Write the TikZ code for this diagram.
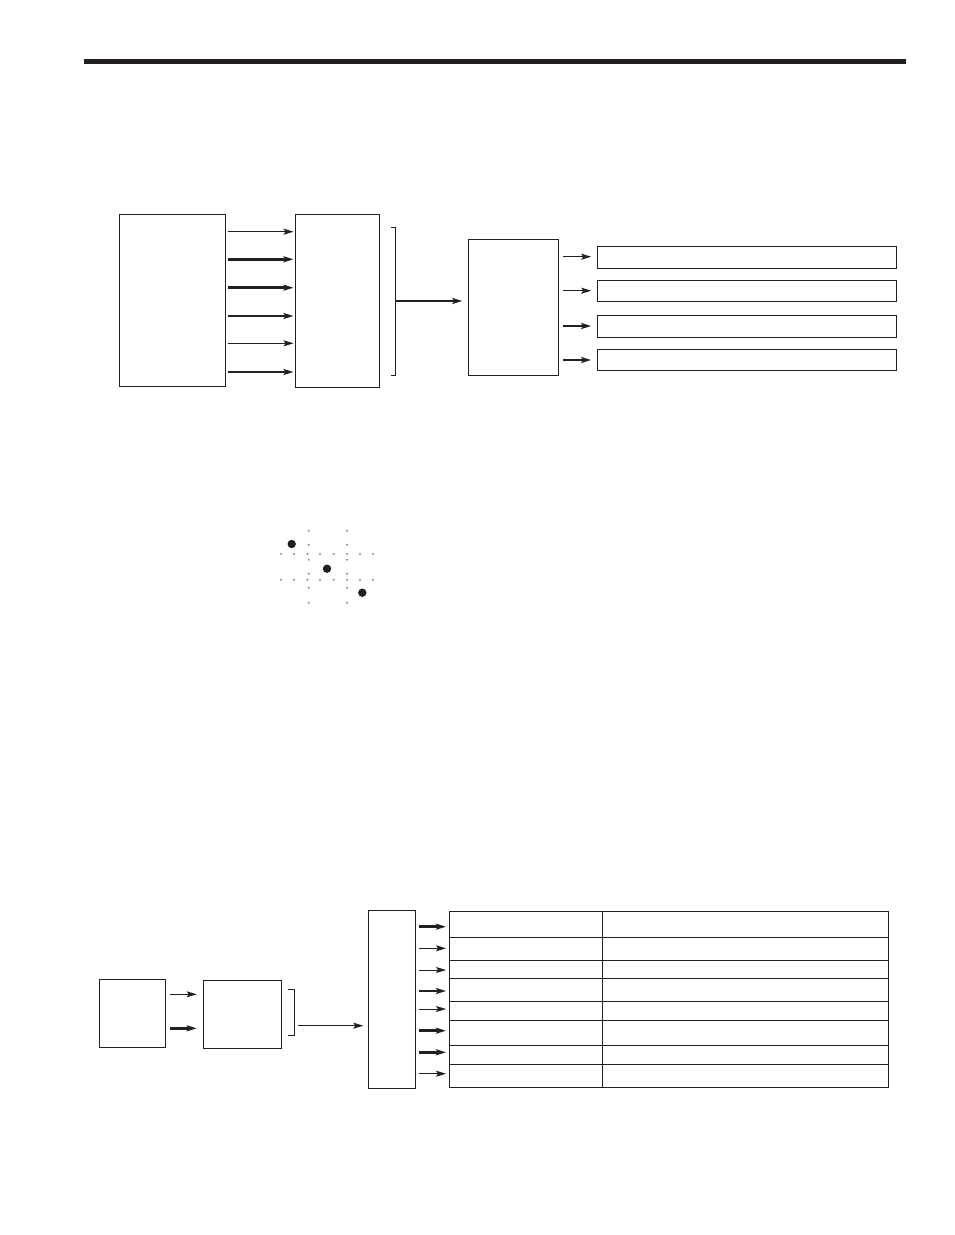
\documentclass[tikz,border=0pt]{standalone}
\usetikzlibrary{arrows.meta}
\definecolor{ink}{RGB}{35,31,32}
\definecolor{dotgrey}{RGB}{140,140,140}
\tikzset{
  box/.style={draw=ink, line width=0.9pt, inner sep=0pt, outer sep=0pt, anchor=north west},
  thinarr/.style={draw=ink, line width=1pt, -{Stealth[length=10pt,width=6pt,inset=2pt]}},
  thickarr/.style={draw=ink, line width=2.6pt, -{Stealth[length=10pt,width=6pt,inset=2pt]}},
  brk/.style={draw=ink, line width=1pt},
  bigdot/.style={fill=ink, draw=none},
  smalldot/.style={fill=dotgrey, draw=none}
}
\begin{document}
\begin{tikzpicture}[x=1pt,y=-1pt]
\useasboundingbox (0,0) rectangle (954,1235);
% top rule
\fill[ink] (84,59) rectangle (906,64);

% ---------- upper diagram ----------
\node[box, minimum width=106.4pt, minimum height=172pt] (b1) at (119.3,214) {};
\node[box, minimum width=84.3pt, minimum height=173pt] (b2) at (295,214) {};
\node[box, minimum width=90pt, minimum height=136pt] (b3) at (468.8,239.5) {};
\foreach \n/\y/\st in {1/231.7/thinarr, 2/259.3/thickarr, 3/287.7/thickarr, 4/316/thickarr, 5/343.3/thinarr, 6/372/thickarr}{
  \draw[\st, shorten <=2.5pt, shorten >=1.5pt] (b1.east |- 0,\y) -- (b2.west |- 0,\y);
}
% bracket
\coordinate (k1t) at (395,227.3);
\coordinate (k1b) at (395,375);
\coordinate (k1m) at (395,301);
\draw[brk] (391,227.3) -- (k1t) -- (k1b) -- (391,375);
\draw[thickarr, line width=2.2pt, shorten >=6.5pt] (k1m) -- (b3.west |- k1m);
% output boxes
\foreach \n/\t/\h in {1/246.5/21.5, 2/280.5/21, 3/315.5/21.5, 4/349.5/21}{
  \node[box, minimum width=298.5pt, minimum height=\h pt] (o\n) at (597.7,\t) {};
}
\foreach \n/\y/\st in {1/256.7/thinarr, 2/290.7/thinarr, 3/326/thickarr, 4/360/thickarr}{
  \draw[\st, shorten <=4.4pt, shorten >=6.5pt] (b3.east |- 0,\y) -- (o\n.west |- 0,\y);
}

% ---------- dot lattice ----------
\foreach \x in {308.7,347}{
  \foreach \y in {530.7,544.7,559.7,573.7,587.7,602.7}{
    \fill[smalldot] (\x,\y) circle (1.1pt);
  }
}
\foreach \y in {554,579.7}{
  \foreach \x in {281,294,307.5,320,333.7,347,360,373}{
    \fill[smalldot] (\x,\y) circle (1.1pt);
  }
}
\fill[bigdot] (291.7,544) circle (4.2pt);
\fill[bigdot] (327,568.7) circle (4.2pt);
\fill[bigdot] (362.3,592.7) circle (4.2pt);

% ---------- lower diagram ----------
\node[box, minimum width=66.4pt, minimum height=68pt] (ba) at (99.3,979.3) {};
\node[box, minimum width=78.4pt, minimum height=68pt] (bb) at (203.3,980.3) {};
\node[box, minimum width=47.4pt, minimum height=178.3pt] (bc) at (368.3,910) {};
\draw[thinarr, shorten <=4.3pt, shorten >=6.6pt] (ba.east |- 0,994.3) -- (bb.west |- 0,994.3);
\draw[thickarr, shorten <=4.3pt, shorten >=6.6pt] (ba.east |- 0,1028.3) -- (bb.west |- 0,1028.3);
\coordinate (k2t) at (294,989);
\coordinate (k2b) at (294,1035.3);
\coordinate (k2m) at (298.3,1025.7);
\draw[brk] (287.7,989) -- (k2t) -- (k2b) -- (287.7,1035.3);
\draw[thinarr, line width=1.2pt, shorten >=5pt] (k2m) -- (bc.west |- k2m);
% table
\foreach \n/\t/\h in {1/911.7/25.6, 2/937.3/23.4, 3/960.7/17.6, 4/978.3/23, 5/1001.3/19, 6/1020.3/25, 7/1045.3/19, 8/1064.3/22.7}{
  \node[box, minimum width=153pt, minimum height=\h pt] (tl\n) at (449.3,\t) {};
  \node[box, minimum width=286pt, minimum height=\h pt] (tr\n) at (602.3,\t) {};
}
\foreach \n/\y/\st in {1/926.7/thickarr, 2/948.3/thinarr, 3/970/thinarr, 4/991/thickarr, 5/1009/thinarr, 6/1030.7/thickarr, 7/1052.3/thickarr, 8/1073.7/thinarr}{
  \draw[\st, shorten <=3.6pt, shorten >=3.3pt] (bc.east |- 0,\y) -- (tl\n.west |- 0,\y);
}
\end{tikzpicture}
\end{document}
